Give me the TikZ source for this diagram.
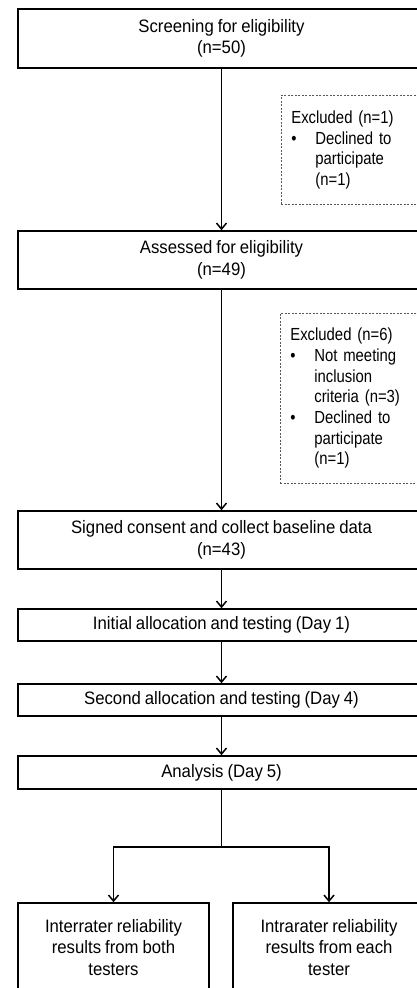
\documentclass[tikz,border=0pt]{standalone}
\usepackage{fontspec}
\setmainfont{Liberation Sans}[FakeStretch=0.93, WordSpace=0.85]
\newfontfamily\narrowsans{Liberation Sans}[FakeStretch=0.85, WordSpace=0.75]
\usepackage{tikz}
\usetikzlibrary{positioning,arrows.meta}

\begin{document}
\begin{tikzpicture}[x=1pt, y=-1pt,
    box/.style={draw, line width=1.6pt, align=center, inner sep=0pt,
        font=\fontsize{18}{21.5}\selectfont},
    excl/.style={draw=black!65, dash pattern=on 2pt off 1.5pt, line width=0.7pt,
        align=left, text width=124pt, inner xsep=10pt, inner ysep=0pt,
        anchor=north west, font=\narrowsans\fontsize{17.5}{20.7}\selectfont},
    flow/.style={-{Straight Barb[length=6pt,width=10pt]}, line width=1.5pt}]
    \useasboundingbox (0,0) rectangle (417,988);

    % main flow
    \node[box, minimum width=407pt, minimum height=59pt] (screen) at (221.5,38.5)
        {Screening for eligibility\\(n=50)};
    \node[box, minimum width=407pt, minimum height=58pt] (assess) at (221.5,260)
        {Assessed for eligibility\\(n=49)};
    \node[box, minimum width=407pt, minimum height=58pt] (consent) at (221.5,540)
        {Signed consent and collect baseline data\\(n=43)};
    \node[box, minimum width=407pt, minimum height=32pt] (initial) at (221.5,625)
        {Initial allocation and testing (Day 1)};
    \node[box, minimum width=407pt, minimum height=32pt] (second) at (221.5,700)
        {Second allocation and testing (Day 4)};
    \node[box, minimum width=407pt, minimum height=33pt] (analysis) at (221.5,772.5)
        {Analysis (Day 5)};
    \node[box, minimum width=191pt, minimum height=89pt] (inter) at (113.5,947.5)
        {Interrater reliability\\results from both\\testers};
    \node[box, minimum width=192pt, minimum height=89pt] (intra) at (329,947.5)
        {Intrarater reliability\\results from each\\tester};

    % exclusions
    \node[excl, minimum height=109pt] (excl1) at (281,95)
        {Excluded (n=1)\\
         \makebox[24pt][l]{\textbullet}Declined to\\
         \hspace*{24pt}participate\\
         \hspace*{24pt}(n=1)};
    \node[excl, minimum height=170pt] (excl2) at (280,313)
        {Excluded (n=6)\\
         \makebox[24pt][l]{\textbullet}Not meeting\\
         \hspace*{24pt}inclusion\\
         \hspace*{24pt}criteria (n=3)\\
         \makebox[24pt][l]{\textbullet}Declined to\\
         \hspace*{24pt}participate\\
         \hspace*{24pt}(n=1)};

    \draw[flow] (screen) -- (assess);
    \draw[flow] (assess) -- (consent);
    \draw[flow] (consent) -- (initial);
    \draw[flow] (initial) -- (second);
    \draw[flow] (second) -- (analysis);

    % split to the two results
    \coordinate (split) at (221.5,847);
    \draw[line width=1.5pt] (analysis) -- (split);
    \draw[flow] (split) -| (inter);
    \draw[flow] (split) -| (intra);
\end{tikzpicture}
\end{document}
